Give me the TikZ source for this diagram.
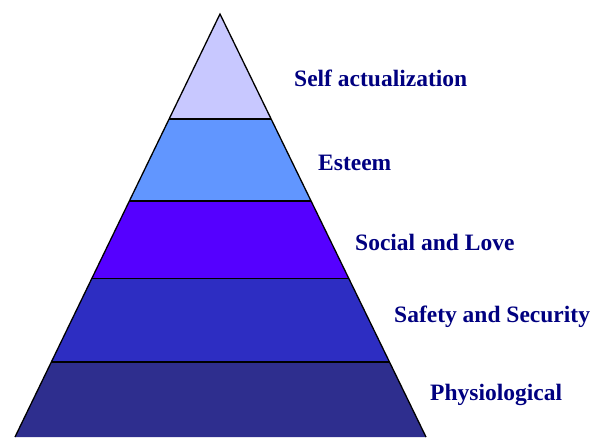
\documentclass[tikz,border=0pt]{standalone}
\usepackage{fontspec}
\setmainfont{Liberation Serif}
\usetikzlibrary{calc}
\definecolor{selfcol}{HTML}{C8C8FF}
\definecolor{esteemcol}{HTML}{6196FF}
\definecolor{socialcol}{HTML}{5500FF}
\definecolor{safetycol}{HTML}{2D2DC2}
\definecolor{physcol}{HTML}{2E2E8E}
\definecolor{labelcol}{HTML}{000080}

\begin{document}
\begin{tikzpicture}[x=1pt,y=-1pt,
  edge/.style={black,line width=1.3pt},
  lbl/.style={anchor=west,inner sep=0pt,text=labelcol,font=\bfseries\fontsize{23.5}{24}\selectfont}]
\useasboundingbox (0,0) rectangle (592,437);
\coordinate (T) at (220,14); \coordinate (L) at (15,437); \coordinate (R) at (426,437);
\foreach \t/\n in {0.248/1,0.442/2,0.626/3,0.823/4}{
  \coordinate (L\n) at ($(T)!\t!(L)$); \coordinate (R\n) at ($(T)!\t!(R)$);}
\fill[selfcol] (T)--(L1)--(R1)--cycle;
\fill[esteemcol] (L1)--(L2)--(R2)--(R1)--cycle;
\fill[socialcol] (L2)--(L3)--(R3)--(R2)--cycle;
\fill[safetycol] (L3)--(L4)--(R4)--(R3)--cycle;
\fill[physcol] (L4)--(L)--(R)--(R4)--cycle;
\draw[edge] (L)--(T)--(R);
\foreach \n in {1,...,4}{\draw[edge] (L\n)--(R\n);}
\node[lbl] (self) at (294,78) {Self actualization};
\node[lbl] (esteem) at (318,163) {Esteem};
\node[lbl] (social) at (355,242) {Social and Love};
\node[lbl] (safety) at (394,317) {Safety and Security};
\node[lbl] (phys) at (430,395) {Physiological};
\end{tikzpicture}
\end{document}
